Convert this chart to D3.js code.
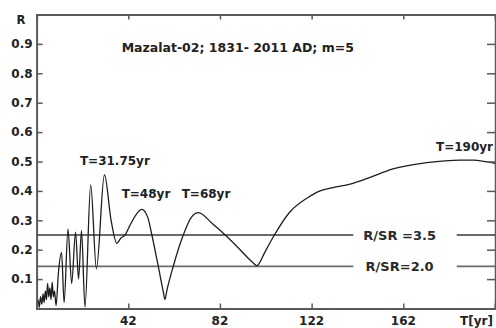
<!DOCTYPE html>
<html>
<head>
<meta charset="utf-8">
<script src="https://cdn.jsdelivr.net/npm/d3@7"></script>
<style>
  body { margin: 0; background: #fff; }
  text { font-family: "DejaVu Sans", Verdana, sans-serif; }
</style>
</head>
<body>
<div id="chart"></div>
<script>
// period T (yr) and R values
var periods = [2, 2.6, 3.2, 3.7, 4.3, 4.8, 5.3, 5.8, 6.3, 6.8, 7.3, 7.8, 8.3, 8.8, 9.3, 9.8, 10.5,
  11.5, 12.9, 14.0, 15.7, 17.3, 19.0, 20.3, 21.6, 23.1, 25.6, 28.1, 31.6, 34.5, 37.0, 38.8, 40.6,
  42.8, 47.9, 50.5, 52.3, 55.1, 57.2, 58.0, 58.8, 61.6, 66.0, 69.5, 72.6, 78.5, 85.0, 90.8, 95.1,
  97.3, 98.0, 98.8, 101.5, 105.3, 112.6, 119.9, 125.7, 131.3, 138.8, 147.5, 157.5, 172.2, 186.8,
  192.4, 198.4, 202];
var rValues = [0.02, 0.03, 0.005, 0.04, 0.015, 0.05, 0.02, 0.06, 0.03, 0.085, 0.04, 0.07, 0.03, 0.09, 0.04, 0.06, 0.01,
  0.12, 0.19, 0.02, 0.27, 0.085, 0.26, 0.10, 0.265, 0.005, 0.42, 0.135, 0.455, 0.30, 0.222, 0.24, 0.25,
  0.284, 0.337, 0.31, 0.25, 0.143, 0.06, 0.031, 0.06, 0.143, 0.25, 0.31, 0.326, 0.29, 0.245, 0.20, 0.165,
  0.15, 0.145, 0.15, 0.19, 0.244, 0.329, 0.375, 0.40, 0.411, 0.423, 0.446, 0.475, 0.496, 0.505,
  0.505, 0.499, 0.494];

var xTicks = [42, 82, 122, 162];
var yTicks = [0.1, 0.2, 0.3, 0.4, 0.5, 0.6, 0.7, 0.8, 0.9];

var thresholdLabels = ["R/SR =3.5", "R/SR=2.0"];
var thresholdR = [0.25, 0.143];

var peakLabels = ["T=31.75yr", "T=48yr", "T=68yr", "T=190yr"];
var peakLabelT = [20.9, 39.1, 65.3, 202];
var peakLabelR = [0.488, 0.376, 0.376, 0.536];

var title = "Mazalat-02; 1831- 2011 AD; m=5";

var W = 496, H = 328;
var margin = { top: 14.5, right: 1, bottom: 19.5, left: 36.6 };

var svg = d3.select("#chart").append("svg")
  .attr("width", W)
  .attr("height", H);

var x = d3.scaleLinear().domain([2, 202]).range([margin.left, W - margin.right]);
var y = d3.scaleLinear().domain([0, 1]).range([H - margin.bottom, margin.top]);

var frameColor = "#5a5a5a";

// threshold lines, broken where the label sits
thresholdR.forEach(function(r, i) {
  svg.append("line")
    .attr("x1", x(2)).attr("x2", x(140.2))
    .attr("y1", y(r)).attr("y2", y(r))
    .attr("stroke", "#6a6a6a").attr("stroke-width", 1.8);
  svg.append("line")
    .attr("x1", x(185.3)).attr("x2", x(202))
    .attr("y1", y(r)).attr("y2", y(r))
    .attr("stroke", "#6a6a6a").attr("stroke-width", 1.8);
  svg.append("text")
    .attr("x", x(160.4)).attr("y", y(r))
    .attr("dy", "0.36em")
    .attr("text-anchor", "middle")
    .attr("font-size", 13).attr("font-weight", "bold")
    .attr("fill", "#2a2a2a")
    .text(thresholdLabels[i]);
});

// the spectrum
var line = d3.line()
  .x(function(d, i) { return x(periods[i]); })
  .y(function(d) { return y(d); })
  .curve(d3.curveMonotoneX);

svg.append("path")
  .datum(rValues)
  .attr("fill", "none")
  .attr("stroke", "#1e1e1e")
  .attr("stroke-width", 1.3)
  .attr("d", line);

// axes: left/bottom with labels, top/right inward ticks only
var gLeft = svg.append("g").attr("transform", "translate(" + margin.left + ",0)")
  .call(d3.axisRight(y).tickValues(yTicks).tickSize(6).tickFormat(""));
var gRight = svg.append("g").attr("transform", "translate(" + (W - margin.right) + ",0)")
  .call(d3.axisLeft(y).tickValues(yTicks).tickSize(8).tickFormat(""));
var gBottom = svg.append("g").attr("transform", "translate(0," + (H - margin.bottom) + ")")
  .call(d3.axisTop(x).tickValues(xTicks).tickSize(5).tickFormat(""));
var gTop = svg.append("g").attr("transform", "translate(0," + margin.top + ")")
  .call(d3.axisBottom(x).tickValues(xTicks).tickSize(5).tickFormat(""));

[gLeft, gRight, gBottom, gTop].forEach(function(g) {
  g.select(".domain").attr("stroke", frameColor).attr("stroke-width", 2);
  g.selectAll(".tick line").attr("stroke", frameColor).attr("stroke-width", 1.5);
});
gRight.select(".domain").attr("stroke-width", 1.5);

// tick labels
svg.selectAll(".ylab")
  .data(yTicks)
  .enter().append("text")
  .attr("x", margin.left - 4)
  .attr("y", function(d) { return y(d); })
  .attr("dy", "0.36em")
  .attr("text-anchor", "end")
  .attr("font-size", 12).attr("font-weight", "bold")
  .attr("fill", "#222")
  .text(function(d) { return d.toFixed(1); });

svg.selectAll(".xlab")
  .data(xTicks)
  .enter().append("text")
  .attr("x", function(d) { return x(d); })
  .attr("y", H - margin.bottom + 16.5)
  .attr("text-anchor", "middle")
  .attr("font-size", 12).attr("font-weight", "bold")
  .attr("fill", "#222")
  .text(function(d) { return d; });

svg.append("text")
  .attr("x", W - 3).attr("y", H - margin.bottom + 16.5)
  .attr("text-anchor", "end")
  .attr("font-size", 12).attr("font-weight", "bold")
  .attr("fill", "#222")
  .text("T[yr]");

svg.append("text")
  .attr("x", 21).attr("y", 24)
  .attr("text-anchor", "middle")
  .attr("font-size", 11.5).attr("font-weight", "bold")
  .attr("fill", "#222")
  .text("R");

// title
svg.append("text")
  .attr("x", x(39.1)).attr("y", y(0.872))
  .attr("font-size", 12.5).attr("font-weight", "bold")
  .attr("fill", "#222")
  .text(title);

// peak labels
peakLabels.forEach(function(t, i) {
  svg.append("text")
    .attr("x", x(peakLabelT[i]) - (i === 3 ? 2 : 0))
    .attr("y", y(peakLabelR[i]))
    .attr("text-anchor", i === 3 ? "end" : "start")
    .attr("font-size", 12).attr("font-weight", "bold")
    .attr("fill", "#222")
    .text(t);
});
</script>
</body>
</html>
